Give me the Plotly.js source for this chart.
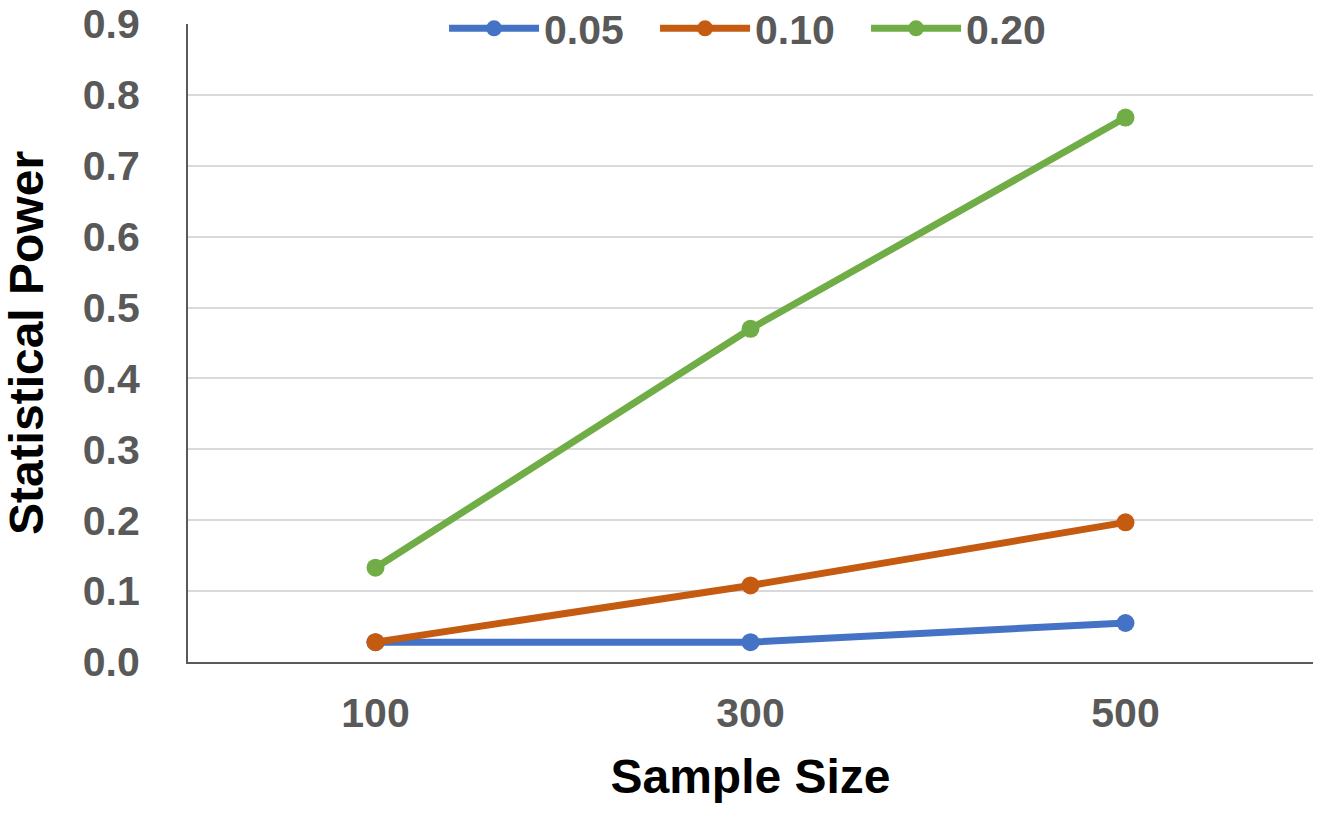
<!DOCTYPE html>
<html>
<head>
<meta charset="utf-8">
<script src="https://cdn.plot.ly/plotly-3.0.1.min.js"></script>
<style>html,body{margin:0;padding:0;background:#fff;}#chart{width:1319px;height:813px;}</style>
</head>
<body>
<div id="chart"></div>
<script>
var sampleSizes = ["100", "300", "500"];
var seriesNames = ["0.05", "0.10", "0.20"];
var power005 = [0.028, 0.028, 0.055];
var power010 = [0.028, 0.108, 0.197];
var power020 = [0.133, 0.470, 0.768];
var yTickVals = [0, 0.1, 0.2, 0.3, 0.4, 0.5, 0.6, 0.7, 0.8, 0.9];
var yTickText = ["0.0", "0.1", "0.2", "0.3", "0.4", "0.5", "0.6", "0.7", "0.8", "0.9"];

var colors = ["#4472C4", "#C55A11", "#70AD47"];
var seriesData = [power005, power010, power020];

var traces = seriesData.map(function (vals, i) {
  return {
    type: "scatter",
    mode: "lines+markers",
    x: sampleSizes,
    y: vals,
    name: seriesNames[i],
    line: {color: colors[i], width: 7},
    marker: {color: colors[i], size: 18, symbol: "circle"},
    hoverinfo: "skip"
  };
});

var tickFont = {family: "Liberation Sans, Arial, sans-serif", size: 41, color: "#595959", weight: "bold"};
var titleFont = {family: "Liberation Sans, Arial, sans-serif", size: 48, color: "#000000", weight: "bold"};

var layout = {
  width: 1319,
  height: 813,
  margin: {l: 188, r: 6, t: 24, b: 151, autoexpand: false},
  paper_bgcolor: "#ffffff",
  plot_bgcolor: "#ffffff",
  showlegend: true,
  legend: {
    orientation: "h",
    x: 0.2276, xanchor: "left",
    y: 1.0452, yanchor: "top",
    font: tickFont,
    bgcolor: "rgba(0,0,0,0)",
    borderwidth: 0,
    itemwidth: 90,
    entrywidth: 106,
    tracegroupgap: 0
  },
  xaxis: {
    type: "category",
    range: [-0.5, 2.5],
    showgrid: false,
    showline: true,
    linecolor: "#595959",
    linewidth: 2,
    zeroline: false,
    ticks: "",
    tickfont: tickFont,
    ticklabelstandoff: 14,
    ticklabeloverflow: "allow",
    title: {text: "Sample Size", font: titleFont, standoff: 24},
    fixedrange: true
  },
  yaxis: {
    range: [0, 0.9],
    tickvals: yTickVals,
    ticktext: yTickText,
    showgrid: true,
    gridcolor: "#d9d9d9",
    gridwidth: 2,
    showline: true,
    linecolor: "#595959",
    linewidth: 2,
    zeroline: false,
    ticks: "",
    tickfont: tickFont,
    ticklabelstandoff: 38,
    ticklabeloverflow: "allow",
    title: {text: "Statistical Power", font: titleFont, standoff: 30},
    fixedrange: true
  }
};

Plotly.newPlot("chart", traces, layout, {displayModeBar: false, staticPlot: true});
</script>
</body>
</html>
